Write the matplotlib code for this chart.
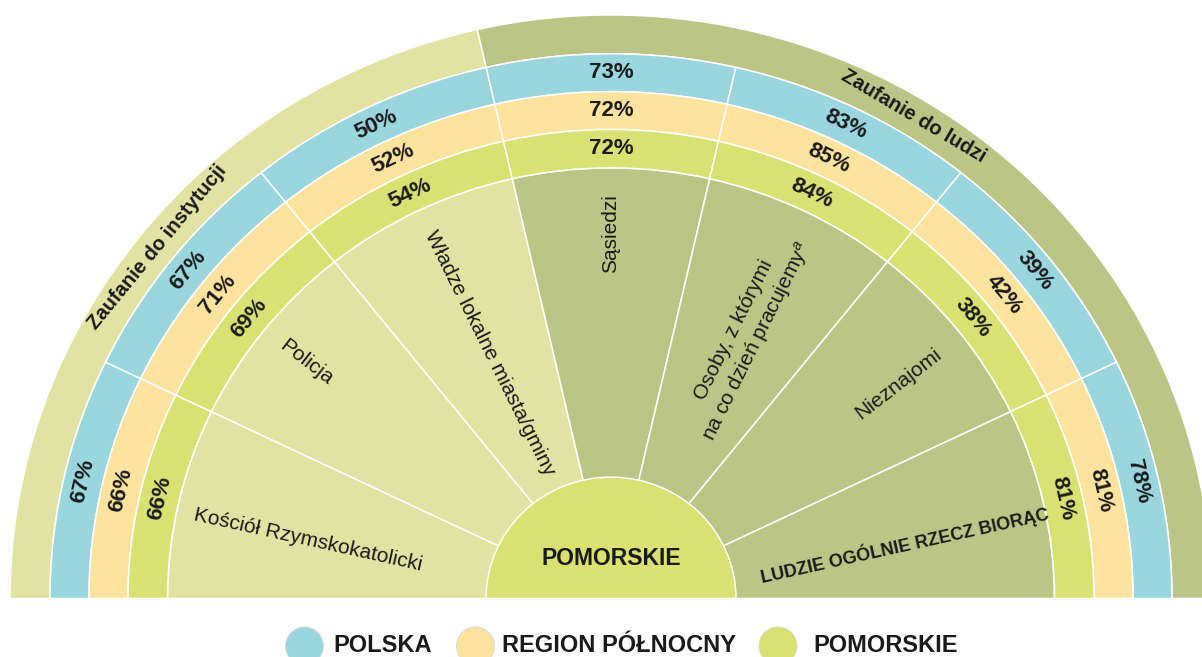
import numpy as np
import matplotlib
matplotlib.use("Agg")
import matplotlib.pyplot as plt
from matplotlib.patches import Wedge, Ellipse

plt.rcParams['font.family'] = ['Liberation Sans', 'DejaVu Sans']
plt.rcParams['mathtext.fontset'] = 'custom'
plt.rcParams['mathtext.rm'] = 'Liberation Sans'
plt.rcParams['mathtext.it'] = 'Liberation Sans:italic'

# ---------------- data ----------------
categories = ["Kościół Rzymskokatolicki", "Policja", "Władze lokalne miasta/gminy",
              "Sąsiedzi", "Osoby, z którymi\nna co dzień pracujemy$^{a}$",
              "Nieznajomi", "LUDZIE OGÓLNIE RZECZ BIORĄC"]
groups = ["Zaufanie do instytucji", "Zaufanie do ludzi"]
group_of = [0, 0, 0, 1, 1, 1, 1]
series = ["POLSKA", "REGION PÓŁNOCNY", "POMORSKIE"]
polska = [67, 67, 50, 73, 83, 39, 78]
region_polnocny = [66, 71, 52, 72, 85, 42, 81]
pomorskie = [66, 69, 54, 72, 84, 38, 81]
center_label = "POMORSKIE"

# ---------------- style / layout ----------------
W, H = 1202, 657
CX, CY = 611.0, 598.5
SY = 0.971
R_CENTER, R_INNER, R_GREEN, R_YELLOW, R_BLUE, R_OUTER = 125, 443.5, 483, 522, 561, 601
C_INST = "#E2E3A3"
C_PEOPLE = "#BBC586"
C_BLUE = "#9AD6DE"
C_YELLOW = "#FEE39F"
C_GREEN = "#D8E171"
TXT = "#1a1a1a"
series_colors = [C_BLUE, C_YELLOW, C_GREEN]
ring_bounds = [(R_YELLOW, R_BLUE), (R_GREEN, R_YELLOW), (R_INNER, R_GREEN)]
# category label layout: (radius, angle offset from sector middle, size, weight)
label_layout = [(309, 1.6, 15, "normal"), (390, 0.0, 15, "normal"), (280, 0.0, 15, "normal"),
                (376, 0.0, 15, "normal"), (302, -1.0, 15, "normal"), (362, -1.0, 15, "normal"),
                (299, -2.2, 13, "bold")]
group_layout = [(580, 0.0), (582, 7.2)]
legend_x = [304.5, 475.5, 778.0]
legend_text_x = [333, 502, 813]

fig = plt.figure(figsize=(W / 100, H / 100), dpi=100)
ax = fig.add_axes([0, 0, 1, 1])
ax.set_xlim(-CX, W - CX)
ax.set_ylim(-(H - CY) / SY, CY / SY)
ax.axis('off')

n = len(categories)
step = 180.0 / n
LW = 1.1


def tangent_rot(t):
    r = np.deg2rad(t)
    return np.degrees(np.arctan2(-SY * np.cos(r), np.sin(r)))


def radial_rot(t):
    r = np.deg2rad(t)
    a = np.degrees(np.arctan2(SY * np.sin(r), np.cos(r)))
    if t > 90.01:
        a -= 180
    return a


def pol(r, t):
    rr = np.deg2rad(t)
    return r * np.cos(rr), r * np.sin(rr)


values = [polska, region_polnocny, pomorskie]

# outer group band
n_inst = group_of.count(0)
t_split = 180 - n_inst * step
ax.add_patch(Wedge((0, 0), R_OUTER, t_split, 180, width=R_OUTER - R_BLUE,
                   facecolor=C_INST, edgecolor="white", lw=LW))
ax.add_patch(Wedge((0, 0), R_OUTER, 0, t_split, width=R_OUTER - R_BLUE,
                   facecolor=C_PEOPLE, edgecolor="white", lw=LW))

for i, cat in enumerate(categories):
    t2 = 180 - i * step
    t1 = 180 - (i + 1) * step
    tm = (t1 + t2) / 2
    fill = C_INST if group_of[i] == 0 else C_PEOPLE
    ax.add_patch(Wedge((0, 0), R_INNER, t1, t2, facecolor=fill, edgecolor="white", lw=LW))
    for k in range(3):
        r_in, r_out = ring_bounds[k]
        ax.add_patch(Wedge((0, 0), r_out, t1, t2, width=r_out - r_in,
                           facecolor=series_colors[k], edgecolor="white", lw=LW))
        x, y = pol((r_in + r_out) / 2, tm)
        ax.text(x, y, f"{values[k][i]}%", ha="center", va="center", rotation=tangent_rot(tm),
                rotation_mode="anchor", fontsize=16, fontweight="bold", color=TXT, zorder=5)
    lr, off, fs, fw = label_layout[i]
    tl = tm + off
    x, y = pol(lr, tl)
    ax.text(x, y, cat, ha="center", va="center", rotation=radial_rot(tm), rotation_mode="anchor",
            fontsize=fs, fontweight=fw, color=TXT, linespacing=1.25, multialignment="center",
            zorder=5)

# group labels
for g, name in enumerate(groups):
    idx = [i for i in range(n) if group_of[i] == g]
    t_hi = 180 - min(idx) * step
    t_lo = 180 - (max(idx) + 1) * step
    r, off = group_layout[g]
    tg = (t_hi + t_lo) / 2 + off
    x, y = pol(r, tg)
    ax.text(x, y, name, ha="center", va="center", rotation=tangent_rot(tg), rotation_mode="anchor",
            fontsize=14.5, fontweight="bold", color=TXT, zorder=5)

# center
ax.add_patch(Wedge((0, 0), R_CENTER, 0, 180, facecolor=C_GREEN, edgecolor="white", lw=LW, zorder=4))
ax.text(0, (598.5 - 558.7) / SY, center_label, ha="center", va="center", fontsize=16.5,
        fontweight="bold", color=TXT, zorder=6)

# legend
for k, name in enumerate(series):
    cx = legend_x[k] - CX
    cy = (CY - 646) / SY
    ax.add_patch(Ellipse((cx, cy), 38, 38 / SY, facecolor=series_colors[k],
                         edgecolor="#d8d8d8", lw=0.6, clip_on=False))
    ax.text(legend_text_x[k] - CX, (CY - 652) / SY, name, ha="left", va="baseline",
            fontsize=17, fontweight="bold", color=TXT)

fig.savefig("out.png", dpi=100)
